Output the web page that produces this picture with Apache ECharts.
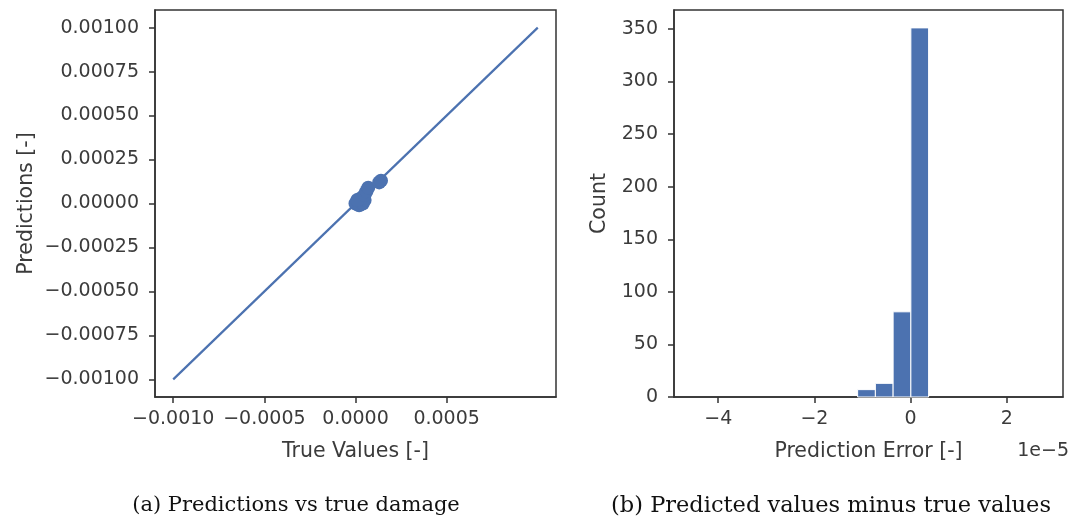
<!DOCTYPE html>
<html><head><meta charset="utf-8">
<script src="https://cdn.jsdelivr.net/npm/echarts@6/dist/echarts.min.js"></script>
<style>html,body{margin:0;padding:0;background:#fff}#c{width:1078px;height:521px}</style>
</head><body><div id="c"></div>
<script>
// Panel (a): scatter of predictions vs true values + identity line
const trueVals = [0.0, 0.00002, 0.00004, 0.00005, 0.00003, 0.00001, 0.00005, 0.00006, 0.00007, 0.00013, 0.00014];
const predVals = [0.0, -0.00001, 0.0, 0.00002, 0.00003, 0.00002, 0.00005, 0.00007, 0.00009, 0.00012, 0.00013];
const lineX = [-0.001, 0.001];
const lineY = [-0.001, 0.001];
const leftXTicks = [-0.001, -0.0005, 0, 0.0005];
const leftYTicks = [-0.001, -0.00075, -0.0005, -0.00025, 0, 0.00025, 0.0005, 0.00075, 0.001];
// Panel (b): histogram of prediction errors (units of 1e-5)
const binEdges = [-1.101, -0.732, -0.363, 0.006, 0.375];
const binCounts = [7, 13, 81, 351];
const rightXTicks = [-4, -2, 0, 2];
const rightYTicks = [0, 50, 100, 150, 200, 250, 300, 350];

const BLUE = '#4c72b0';
const TXT = '#3b3b3b';
const AX = '#333333';
const fmtNum = (v, d) => (v < -1e-12 ? '\u2212' : '') + Math.abs(v).toFixed(d);

const chart = echarts.init(document.getElementById('c'), null, {renderer: 'canvas'});
const axisCommon = {
  axisLine: {show: true, onZero: false, lineStyle: {color: AX, width: 1.5}},
  axisTick: {show: true, inside: false, length: 6, lineStyle: {color: AX, width: 1.5}},
  splitLine: {show: false},
  nameTextStyle: {color: TXT, fontFamily: 'DejaVu Sans', fontSize: 20.5},
};
const labelCommon = {color: TXT, fontFamily: 'DejaVu Sans', fontSize: 19};

const lineData = lineX.map((x, i) => [x, lineY[i]]);
const scatterData = trueVals.map((x, i) => [x, predVals[i]]);
const histData = binCounts.map((c, i) => [binEdges[i], binEdges[i + 1], c]);

chart.setOption({
  animation: false,
  grid: [
    {left: 155, top: 10, width: 401, height: 387, show: true, borderColor: AX, borderWidth: 1.5, containLabel: false},
    {left: 674, top: 10, width: 389, height: 387, show: true, borderColor: AX, borderWidth: 1.5, containLabel: false}
  ],
  xAxis: [
    Object.assign({}, axisCommon, {
      type: 'value', gridIndex: 0, min: -0.0011, max: 0.0011,
      name: 'True Values [-]', nameLocation: 'middle', nameGap: 44,
      axisTick: Object.assign({}, axisCommon.axisTick, {customValues: leftXTicks}),
      axisLabel: Object.assign({}, labelCommon, {customValues: leftXTicks, margin: 13, formatter: v => fmtNum(v, 4)})
    }),
    Object.assign({}, axisCommon, {
      type: 'value', gridIndex: 1, min: -4.92, max: 3.17,
      name: 'Prediction Error [-]', nameLocation: 'middle', nameGap: 44,
      axisTick: Object.assign({}, axisCommon.axisTick, {customValues: rightXTicks}),
      axisLabel: Object.assign({}, labelCommon, {customValues: rightXTicks, margin: 13, formatter: v => fmtNum(v, 0)})
    })
  ],
  yAxis: [
    Object.assign({}, axisCommon, {
      type: 'value', gridIndex: 0, min: -0.0011, max: 0.0011,
      name: 'Predictions [-]', nameLocation: 'middle', nameGap: 118, nameRotate: 90,
      axisTick: Object.assign({}, axisCommon.axisTick, {customValues: leftYTicks}),
      axisLabel: Object.assign({}, labelCommon, {customValues: leftYTicks, margin: 16, formatter: v => fmtNum(v, 5)})
    }),
    Object.assign({}, axisCommon, {
      type: 'value', gridIndex: 1, min: 0, max: 368,
      name: 'Count', nameLocation: 'middle', nameGap: 64, nameRotate: 90,
      axisTick: Object.assign({}, axisCommon.axisTick, {customValues: rightYTicks}),
      axisLabel: Object.assign({}, labelCommon, {customValues: rightYTicks, margin: 16, formatter: v => String(v)})
    })
  ],
  series: [
    {type: 'line', xAxisIndex: 0, yAxisIndex: 0, data: lineData, showSymbol: false, symbol: 'none',
     lineStyle: {color: BLUE, width: 2.2}, z: 2, silent: true},
    {type: 'scatter', xAxisIndex: 0, yAxisIndex: 0, data: scatterData, symbol: 'circle', symbolSize: 14,
     itemStyle: {color: BLUE, opacity: 1}, z: 3},
    {type: 'custom', xAxisIndex: 1, yAxisIndex: 1, data: histData,
     encode: {x: [0, 1], y: 2},
     renderItem: function (params, api) {
       const p0 = api.coord([api.value(0), api.value(2)]);
       const p1 = api.coord([api.value(1), 0]);
       return {type: 'rect', shape: {x: p0[0], y: p0[1], width: p1[0] - p0[0], height: p1[1] - p0[1]},
               style: {fill: BLUE, stroke: '#ffffff', lineWidth: 1}};
     }, z: 2}
  ],
  graphic: [
    {type: 'text', right: 9, top: 442, style: {text: '1e\u22125', fill: TXT, font: '19px "DejaVu Sans"'}},
    {type: 'text', x: 296, y: 506, style: {text: '(a) Predictions vs true damage', fill: '#111', font: '21px "DejaVu Serif"', textAlign: 'center', textVerticalAlign: 'middle'}},
    {type: 'text', x: 831, y: 506, style: {text: '(b) Predicted values minus true values', fill: '#111', font: '22.5px "DejaVu Serif"', textAlign: 'center', textVerticalAlign: 'middle'}}
  ]
});
</script></body></html>
